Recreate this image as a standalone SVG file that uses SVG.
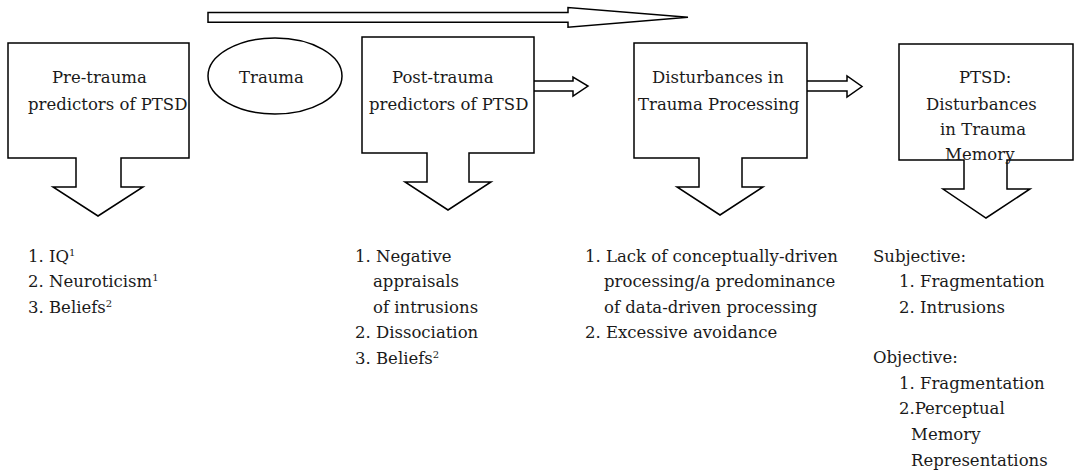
<svg xmlns="http://www.w3.org/2000/svg" width="1078" height="473" viewBox="0 0 1078 473">
<style>
.s{fill:#fff;stroke:#000;stroke-width:1.5;stroke-linejoin:miter}
text{font-family:"DejaVu Serif","Liberation Serif",serif;font-size:16.5px;fill:#1a1a1a}
.sup{font-size:10px}
</style>
<rect width="1078" height="473" fill="#fff"/>
<g id="connectors">
<path id="timeline" class="s" d="M208,12.5 H568 V7.5 L688,17.3 L568,27.3 V22.3 H208 Z"/>
<path id="arrow-post-dist" class="s" d="M530,81 H573 V77 L588,86 L573,96 V91 H530 Z"/>
<path id="arrow-dist-ptsd" class="s" d="M803,81 H847 V76 L862,86.5 L847,97 V91 H803 Z"/>
</g>
<g id="pre-trauma">
<path class="s" d="M8,43 H189 V158 H121 V187 H143 L98,216 L53,187 H76 V158 H8 Z"/>
<text x="52" y="83">Pre-trauma</text>
<text x="28" y="110">predictors of PTSD</text>
</g>
<g id="trauma">
<ellipse class="s" cx="275" cy="76" rx="67" ry="38"/>
<text x="239" y="83">Trauma</text>
</g>
<g id="post-trauma">
<path class="s" d="M362,37 H534 V153 H469 V182 H491 L448,210 L405,182 H427 V153 H362 Z"/>
<text x="392" y="83">Post-trauma</text>
<text x="369" y="110">predictors of PTSD</text>
</g>
<g id="disturbances-processing">
<path class="s" d="M634,43 H807 V158 H742 V187 H763 L720,215 L677,187 H699 V158 H634 Z"/>
<text x="652" y="83">Disturbances in</text>
<text x="638" y="110">Trauma Processing</text>
</g>
<g id="ptsd">
<path class="s" d="M899,44 H1073 V160 H1007 V189 H1030 L986,218 L943,189 H964 V160 H899 Z"/>
<text x="959" y="83">PTSD:</text>
<text x="926" y="110">Disturbances</text>
<text x="940" y="135">in Trauma</text>
<text x="945" y="160">Memory</text>
</g>
<g id="pre-list">
<text x="28" y="262">1. IQ<tspan class="sup" dy="-6">1</tspan></text>
<text x="28" y="287">2. Neuroticism<tspan class="sup" dy="-6">1</tspan></text>
<text x="28" y="313">3. Beliefs<tspan class="sup" dy="-6">2</tspan></text>
</g>
<g id="post-list">
<text x="355" y="262">1. Negative</text>
<text x="373" y="287">appraisals</text>
<text x="373" y="313">of intrusions</text>
<text x="355" y="338">2. Dissociation</text>
<text x="355" y="364">3. Beliefs<tspan class="sup" dy="-6">2</tspan></text>
</g>
<g id="processing-list">
<text x="585" y="262">1. Lack of conceptually-driven</text>
<text x="604" y="287">processing/a predominance</text>
<text x="604" y="313">of data-driven processing</text>
<text x="585" y="338">2. Excessive avoidance</text>
</g>
<g id="memory-list">
<text x="873" y="262">Subjective:</text>
<text x="899" y="287">1. Fragmentation</text>
<text x="899" y="313">2. Intrusions</text>
<text x="873" y="363">Objective:</text>
<text x="899" y="389">1. Fragmentation</text>
<text x="899" y="414">2.Perceptual</text>
<text x="911" y="440">Memory</text>
<text x="911" y="466">Representations</text>
</g>
</svg>
